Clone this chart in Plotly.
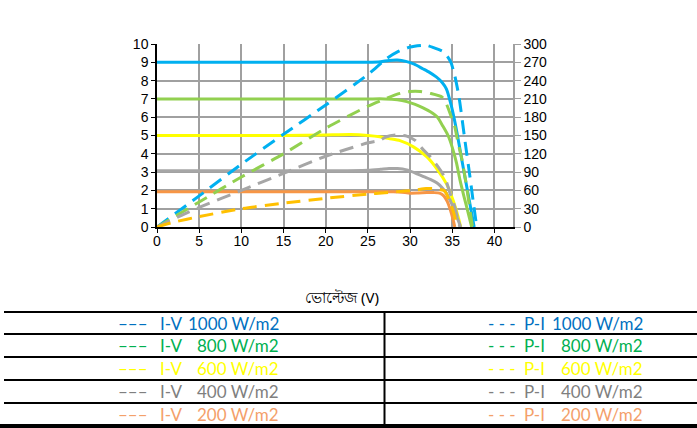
import plotly.graph_objects as go

# ---------------- data ----------------
V_IV_1000 = [0, 5, 10, 15, 20, 25, 26.5, 27.5, 28.5, 29.5, 30.5, 31.5, 32.3, 33.1, 33.8, 34.3, 34.9, 35.5, 36.2, 36.9, 37.6]
I_IV_1000 = [9.0, 9.0, 9.0, 9.0, 9.0, 9.0, 9.03, 9.1, 9.12, 9.05, 8.9, 8.65, 8.45, 8.2, 7.9, 7.55, 6.6, 5.3, 3.5, 1.75, 0]

V_IV_800 = [0, 5, 10, 15, 20, 25, 27, 28.5, 29.6, 30.6, 31.6, 32.4, 33.2, 33.9, 34.5, 35.0, 35.5, 35.9, 36.4, 36.9, 37.3]
I_IV_800 = [7.0, 7.0, 7.0, 7.0, 7.0, 7.0, 7.0, 6.95, 6.85, 6.7, 6.5, 6.3, 6.02, 5.5, 5.0, 4.35, 3.5, 2.6, 1.65, 0.75, 0]

V_IV_600 = [0, 5, 10, 15, 20, 23, 25, 26.4, 27.5, 28.8, 30.4, 32.0, 33.3, 34.3, 35.1, 35.7, 36.0]
I_IV_600 = [5.0, 5.0, 5.0, 5.0, 5.03, 5.05, 5.0, 4.93, 4.83, 4.72, 4.38, 3.83, 3.1, 2.37, 1.46, 0.55, 0]

V_IV_400 = [0, 5, 10, 15, 20, 25, 26.5, 27.5, 28.5, 29.6, 30.6, 31.6, 32.4, 33.2, 33.8, 34.3, 34.8, 35.1, 35.5, 35.8, 36.0]
I_IV_400 = [3.07, 3.07, 3.07, 3.07, 3.07, 3.1, 3.15, 3.19, 3.19, 3.12, 2.95, 2.75, 2.6, 2.4, 2.15, 1.85, 1.4, 1.1, 0.6, 0.25, 0]

V_IV_200 = [0, 5, 10, 15, 20, 25, 28, 29, 30, 31, 32, 32.8, 33.5, 34.0, 34.4, 34.8, 35.1, 35.3]
I_IV_200 = [1.92, 1.92, 1.92, 1.92, 1.92, 1.92, 1.92, 1.9, 1.85, 1.86, 1.88, 1.88, 1.85, 1.7, 1.4, 0.9, 0.4, 0]

V_P_1000 = [0, 5, 10, 15, 20, 25, 27.2, 28.5, 30, 31.9, 32.8, 34.0, 34.8, 35.3, 35.8, 36.5, 37.1, 37.5, 37.9]
P_P_1000 = [0, 51, 103, 152, 200, 250, 276, 287, 295, 298, 294, 287, 271, 248, 213, 142, 82, 40, 0]

V_P_800 = [0, 2.7, 5, 10, 15, 20, 25, 27.2, 28.8, 30, 31.2, 32.4, 33.8, 34.3, 34.9, 35.3, 35.7, 36.1, 36.7, 37.1, 37.4]
P_P_800 = [0, 22, 41, 82, 120, 162, 198, 211, 219, 222, 222, 219, 213, 202, 180, 164, 137, 114, 66, 27, 0]

V_P_GRAY = [0, 2.9, 5, 10, 15, 20, 25, 26.4, 27.2, 28.4, 29.6, 30.6, 31.6, 32.4, 33.3, 34.1, 34.5, 34.9, 35.3, 35.7, 35.9]
P_P_GRAY = [0, 19, 32, 60, 88, 116, 138, 142, 148, 151, 149, 142, 126, 115, 99, 82, 66, 49, 33, 11, 0]

V_P_200 = [0, 2, 5, 10, 15, 20, 25, 27, 28.5, 30.4, 31.9, 32.8, 34.0, 34.3, 34.8, 35.2, 35.5, 35.7]
P_P_200 = [0, 8, 17, 30, 39, 47, 54, 56, 58, 60, 63, 63, 60, 55, 38, 22, 5, 0]

X_TICKS = [0, 5, 10, 15, 20, 25, 30, 35, 40]
Y_TICKS = list(range(0, 11))
Y2_TICKS = list(range(0, 301, 30))

X_TITLE = "ভোল্টেজ (V)"
IRRADIANCE = ["1000 W/m2", "800 W/m2", "600 W/m2", "400 W/m2", "200 W/m2"]
IV_LABEL = "I-V"
PI_LABEL = "P-I"
TEXT_COLORS = ["#0070C0", "#00B050", "#FFFF00", "#7F7F7F", "#F4A06A"]

# ---------------- figure ----------------
W, H = 697, 428
L, R, T, B = 157, 184, 44, 201
PW, PH = W - L - R, H - T - B


def px2x(px):
    return (px - L) / PW


def px2y(py):
    return (H - B - py) / PH


fig = go.Figure()

solid = [
    (V_IV_1000, I_IV_1000, "#00B0F0"),
    (V_IV_800, I_IV_800, "#92D050"),
    (V_IV_600, I_IV_600, "#FFFF00"),
    (V_IV_400, I_IV_400, "#A6A6A6"),
    (V_IV_200, I_IV_200, "#F79646"),
]
dashed = [
    (V_P_1000, P_P_1000, "#00B0F0"),
    (V_P_800, P_P_800, "#92D050"),
    (V_P_GRAY, P_P_GRAY, "#A6A6A6"),
    (V_P_200, P_P_200, "#FFC000"),
]

for v, p, c in dashed:
    fig.add_trace(go.Scatter(x=v, y=p, mode="lines", yaxis="y2",
                             line=dict(color=c, width=3, dash="14px,8px", shape="spline", smoothing=0.6),
                             hoverinfo="skip"))
for v, i, c in solid:
    fig.add_trace(go.Scatter(x=v, y=i, mode="lines",
                             line=dict(color=c, width=3, shape="spline", smoothing=0.6),
                             hoverinfo="skip"))

tickfont = dict(family="Liberation Sans, Arial", size=14, color="#000000")

fig.update_layout(
    width=W, height=H,
    margin=dict(l=L, r=R, t=T, b=B),
    paper_bgcolor="white", plot_bgcolor="white",
    showlegend=False,
    xaxis=dict(range=[0, 42.2], tickvals=X_TICKS, showgrid=True, gridcolor="#A0A0A0", gridwidth=1.5,
               zeroline=False, showline=True, linecolor="#000000", linewidth=1.5,
               ticks="outside", ticklen=4, tickcolor="#000000", tickfont=tickfont,
               ticklabelstandoff=-4),
    yaxis=dict(range=[0, 10], tickvals=Y_TICKS, showgrid=True, gridcolor="#A0A0A0", gridwidth=1.5,
               zeroline=False, showline=True, linecolor="#000000", linewidth=1.5,
               ticks="outside", ticklen=4, tickcolor="#000000", tickfont=tickfont),
    yaxis2=dict(range=[0, 300], tickvals=Y2_TICKS, overlaying="y", side="right", showgrid=False,
                zeroline=False, showline=True, linecolor="#A0A0A0", linewidth=1.5,
                ticks="outside", ticklen=6, tickcolor="#A0A0A0", tickfont=tickfont),
)

# x axis title
fig.add_annotation(x=px2x(342), y=px2y(297), xref="paper", yref="paper", text=X_TITLE,
                   showarrow=False, xanchor="center", yanchor="middle",
                   font=dict(family="Noto Sans, Lato", size=15, color="#000000"))

# table lines
shapes = []
for py in [312, 334, 357, 380, 403]:
    shapes.append(dict(type="line", xref="paper", yref="paper", x0=px2x(4), x1=px2x(697),
                       y0=px2y(py), y1=px2y(py), line=dict(color="#000000", width=2)))
shapes.append(dict(type="rect", xref="paper", yref="paper", x0=px2x(0), x1=px2x(697),
                   y0=px2y(428), y1=px2y(424), line=dict(width=0), fillcolor="#000000"))
shapes.append(dict(type="line", xref="paper", yref="paper", x0=px2x(384.5), x1=px2x(384.5),
                   y0=px2y(312), y1=px2y(428), line=dict(color="#000000", width=2)))
fig.update_layout(shapes=shapes)

row_y = [323, 345.5, 368.5, 391.5, 414]
tfont = "Lato, Open Sans"
for k in range(5):
    c = TEXT_COLORS[k]
    yy = px2y(row_y[k])
    f = dict(family=tfont, size=17, color=c)
    # left column
    fig.add_annotation(x=px2x(116), y=yy, xref="paper", yref="paper", text="–––",
                       showarrow=False, xanchor="left", yanchor="middle", font=f)
    fig.add_annotation(x=px2x(158), y=yy, xref="paper", yref="paper", text=IV_LABEL,
                       showarrow=False, xanchor="left", yanchor="middle", font=f)
    fig.add_annotation(x=px2x(281), y=yy, xref="paper", yref="paper", text=IRRADIANCE[k],
                       showarrow=False, xanchor="right", yanchor="middle", font=f)
    # right column
    fig.add_annotation(x=px2x(486), y=yy, xref="paper", yref="paper", text="- - -",
                       showarrow=False, xanchor="left", yanchor="middle", font=f)
    fig.add_annotation(x=px2x(522), y=yy, xref="paper", yref="paper", text=PI_LABEL,
                       showarrow=False, xanchor="left", yanchor="middle", font=f)
    fig.add_annotation(x=px2x(645), y=yy, xref="paper", yref="paper", text=IRRADIANCE[k],
                       showarrow=False, xanchor="right", yanchor="middle", font=f)

fig.write_html("out.html", config={"displayModeBar": False},
               post_script="document.body.style.margin='0px';document.body.style.overflow='hidden';")
